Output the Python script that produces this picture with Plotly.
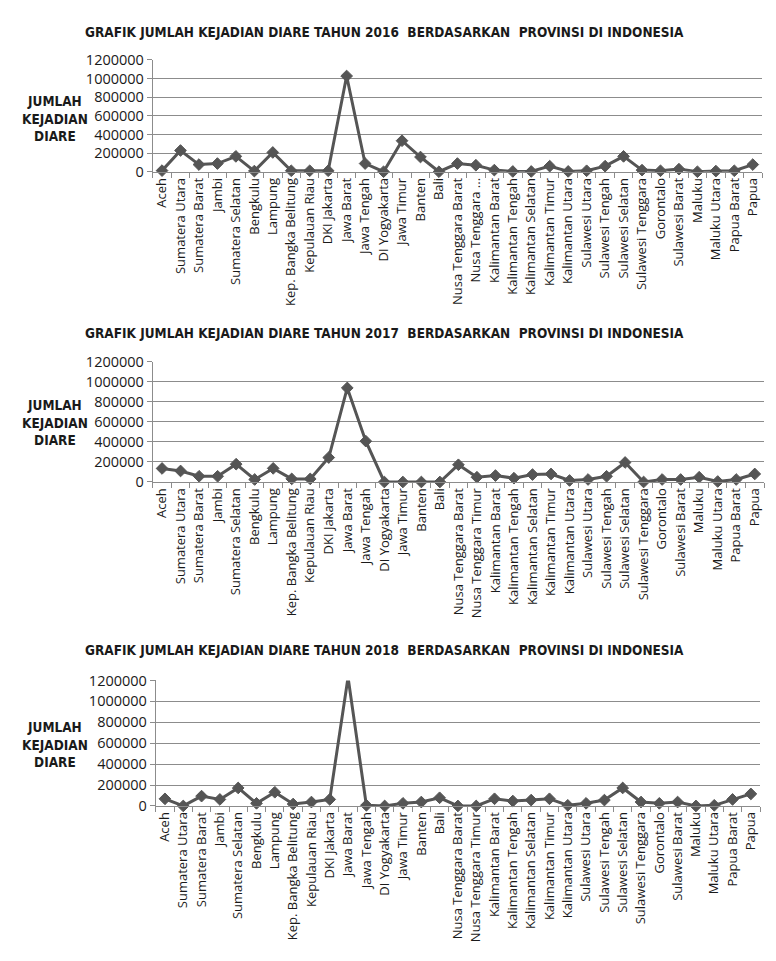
import plotly.graph_objects as go

# Province categories (x axis)
provinces = [
    "Aceh", "Sumatera Utara", "Sumatera Barat", "Jambi", "Sumatera Selatan",
    "Bengkulu", "Lampung", "Kep. Bangka Belitung", "Kepulauan Riau", "DKI Jakarta",
    "Jawa Barat", "Jawa Tengah", "DI Yogyakarta", "Jawa Timur", "Banten", "Bali",
    "Nusa Tenggara Barat", "Nusa Tenggara Timur", "Kalimantan Barat",
    "Kalimantan Tengah", "Kalimantan Selatan", "Kalimantan Timur",
    "Kalimantan Utara", "Sulawesi Utara", "Sulawesi Tengah", "Sulawesi Selatan",
    "Sulawesi Tenggara", "Gorontalo", "Sulawesi Barat", "Maluku", "Maluku Utara",
    "Papua Barat", "Papua",
]
# the 2016 sheet shows a truncated label for NTT
provinces_2016 = [p if p != "Nusa Tenggara Timur" else "Nusa Tenggara ..." for p in provinces]

years = [2016, 2017, 2018]

cases_2016 = [
    12000, 228000, 77000, 88000, 165000, 7000, 207000, 10500, 10500, 10500,
    1028000, 88000, 0, 333000, 158000, 0, 88000, 70000, 17500, 3000,
    3000, 60000, 3500, 10500, 60000, 165000, 17500, 10500, 28000, 0,
    7000, 10500, 77000,
]
cases_2017 = [
    135000, 110000, 57000, 57000, 178000, 25000, 136000, 31000, 31000, 244000,
    940000, 408000, 0, 0, 0, 0, 172000, 47500, 64000, 38000,
    74000, 80000, 15000, 25000, 57000, 195000, 0, 25000, 25000, 47500,
    5000, 25000, 80000,
]
cases_2018 = [
    68000, 0, 94000, 62500, 172000, 25000, 131000, 18500, 37500, 62500,
    1230000, 6000, 0, 25000, 37500, 78000, 0, 0, 68500, 47000,
    56000, 68500, 6000, 25000, 56000, 172000, 37500, 25000, 37500, 0,
    6000, 62500, 115000,
]

title_text = "GRAFIK JUMLAH KEJADIAN DIARE TAHUN {}  BERDASARKAN  PROVINSI DI INDONESIA"
side_text = "JUMLAH<br>KEJADIAN<br>DIARE"

W, H = 776, 961
Y_MAX = 1200000
LINE = "#555555"
GRID = "#8c8c8c"
AXIS = "#8c8c8c"
LABEL_FONT = "Open Sans, Liberation Sans, sans-serif"
TITLE_FONT = "Liberation Sans Narrow, Arial Narrow, DejaVu Sans Condensed, sans-serif"

# panel boxes in pixels: left, right, top (1200000 line), bottom (0 line)
panels = [
    (152, 762, 51, 165),
    (152, 764, 359, 481.5),
    (155, 760, 684, 812),
]
title_y = [22, 330, 653]
side_y = [111, 421, 749]

series = [(provinces_2016, cases_2016), (provinces, cases_2017), (provinces, cases_2018)]

fig = go.Figure()
annotations = []

for i, ((cats, vals), (l, r, t, b), year) in enumerate(zip(series, panels, years)):
    n = "" if i == 0 else str(i + 1)
    xa, ya = "x" + n, "y" + n
    # points beyond the fixed axis maximum get no marker (the line is clipped there)
    sizes = [9 if v <= Y_MAX else 0 for v in vals]
    fig.add_trace(go.Scatter(
        x=cats, y=vals, xaxis=xa, yaxis=ya, mode="lines+markers",
        line=dict(color=LINE, width=3),
        marker=dict(symbol="diamond", size=sizes, color=LINE, opacity=1,
                    line=dict(width=1, color=LINE)),
        opacity=1, cliponaxis=False, showlegend=False, hoverinfo="x+y",
    ))
    fig.layout["xaxis" + n] = dict(
        domain=[l / W, r / W], anchor=ya, type="category",
        categoryorder="array", categoryarray=cats,
        range=[-0.5, len(cats) - 0.5],
        tickson="boundaries", ticks="outside", ticklen=5, tickcolor=AXIS,
        showline=True, linecolor=AXIS, linewidth=1, showgrid=False,
        tickangle=-90, tickfont=dict(family=LABEL_FONT, size=13, color="#1a1a1a"),
        fixedrange=True,
    )
    fig.layout["yaxis" + n] = dict(
        domain=[1 - b / H, 1 - t / H], anchor=xa,
        range=[0, Y_MAX], dtick=200000, tickformat="d",
        ticks="outside", ticklen=5, tickcolor=AXIS,
        showline=True, linecolor=AXIS, linewidth=1,
        showgrid=True, gridcolor=GRID, gridwidth=1, zeroline=False,
        tickfont=dict(family=LABEL_FONT, size=14.5, color="#1a1a1a"),
        fixedrange=True,
    )
    annotations.append(dict(
        text="<b>" + title_text.format(year) + "</b>", xref="paper", yref="paper",
        x=384 / W, y=1 - title_y[i] / H, xanchor="center", yanchor="middle",
        showarrow=False, font=dict(family=TITLE_FONT, size=13.5, color="#1a1a1a"),
    ))
    annotations.append(dict(
        text="<b>" + side_text + "</b>", xref="paper", yref="paper",
        x=54 / W, y=1 - side_y[i] / H, xanchor="center", yanchor="middle",
        align="center", showarrow=False,
        font=dict(family=TITLE_FONT, size=13.5, color="#1a1a1a"),
    ))

fig.update_layout(
    width=W, height=H, margin=dict(l=0, r=0, t=0, b=0),
    paper_bgcolor="white", plot_bgcolor="white",
    annotations=annotations,
)

fig.write_html("out.html")
